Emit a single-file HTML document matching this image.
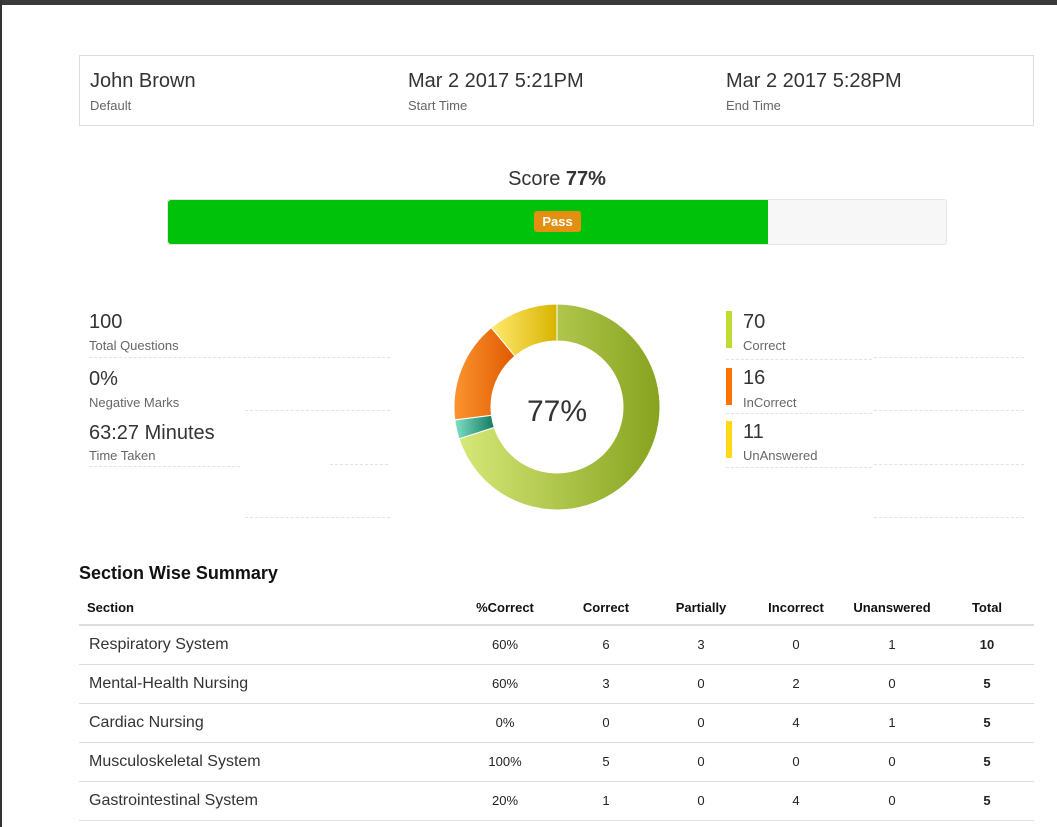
<!DOCTYPE html>
<html><head><meta charset="utf-8"><style>
*{box-sizing:border-box;margin:0;padding:0}
body{width:1057px;height:827px;background:#fff;font-family:"Liberation Sans",sans-serif;color:#333;position:relative;overflow:hidden}
.abs{position:absolute}
.dash{position:absolute;border-top:1px dashed #e2e2e2;height:0}
.big{font-size:20px;color:#333}
.sm{font-size:13px;color:#666}
table{position:absolute;left:79px;top:590px;width:955px;border-collapse:collapse;table-layout:fixed}
th{font-size:13px;font-weight:bold;color:#111;height:35px;text-align:center;border-bottom:2px solid #ddd}
td{font-size:13px;text-align:center;height:39px;border-bottom:1px solid #ddd;color:#222}
td.n{text-align:left;padding-left:10px;font-size:16px;color:#333}
th.n{text-align:left;padding-left:8px}
</style></head><body>
<div class="abs" style="left:0;top:0;width:1057px;height:5px;background:#3a3a3a"></div>
<div class="abs" style="left:0;top:0;width:2px;height:827px;background:#333"></div>

<div class="abs" style="left:79px;top:55px;width:955px;height:71px;border:1px solid #ddd">
 <div class="abs" style="left:10px;top:14px;font-size:20px">John Brown</div>
 <div class="abs sm" style="left:10px;top:42px">Default</div>
 <div class="abs" style="left:328px;top:14px;font-size:20px">Mar 2 2017 5:21PM</div>
 <div class="abs sm" style="left:328px;top:42px">Start Time</div>
 <div class="abs" style="left:646px;top:14px;font-size:20px">Mar 2 2017 5:28PM</div>
 <div class="abs sm" style="left:646px;top:42px">End Time</div>
</div>

<div class="abs" style="left:0;width:1114px;top:168px;text-align:center;font-size:20px">Score <b>77%</b></div>
<div class="abs" style="left:167px;top:199px;width:780px;height:46px;background:#f7f7f7;border:1px solid #e5e5e5;border-radius:3px">
 <div class="abs" style="left:0;top:0;width:600px;height:44px;background:#00c20a;border-radius:3px 0 0 3px"></div>
 <div class="abs" style="left:366px;top:11px;width:47px;height:21px;background:#e39012;border-radius:3px;color:#fff;font-size:13px;font-weight:bold;text-align:center;line-height:21px">Pass</div>
</div>

<div class="abs big" style="left:89px;top:311px">100</div>
<div class="abs sm" style="left:89px;top:338px">Total Questions</div>
<div class="abs big" style="left:89px;top:368px">0%</div>
<div class="abs sm" style="left:89px;top:395px">Negative Marks</div>
<div class="abs big" style="left:89px;top:422px">63:27 Minutes</div>
<div class="abs sm" style="left:89px;top:448px">Time Taken</div>
<div class="dash" style="left:89px;top:357px;width:301px"></div>
<div class="dash" style="left:245px;top:410px;width:145px"></div>
<div class="dash" style="left:89px;top:466px;width:151px"></div>
<div class="dash" style="left:330px;top:464px;width:58px"></div>
<div class="dash" style="left:245px;top:517px;width:145px"></div>

<svg class="abs" style="left:0;top:0" width="1057" height="827">
<defs>
<linearGradient id="gG" x1="0" x2="1"><stop offset="0" stop-color="#d6e878"/><stop offset="1" stop-color="#86a21e"/></linearGradient>
<linearGradient id="gT" x1="0" x2="1"><stop offset="0" stop-color="#7fe0c6"/><stop offset="1" stop-color="#137a5e"/></linearGradient>
<linearGradient id="gO" x1="0" x2="1"><stop offset="0" stop-color="#fb9430"/><stop offset="1" stop-color="#e05a00"/></linearGradient>
<linearGradient id="gY" x1="0" x2="1"><stop offset="0" stop-color="#ffea70"/><stop offset="1" stop-color="#d8b400"/></linearGradient>
</defs>
<g id="donut"></g>
<text x="557" y="421" text-anchor="middle" font-size="30" fill="#333" font-family="Liberation Sans,sans-serif">77%</text>
</svg>

<div class="abs" style="left:726px;top:311px;width:6px;height:37px;background:#c2db34"></div>
<div class="abs big" style="left:743px;top:311px">70</div>
<div class="abs sm" style="left:743px;top:338px">Correct</div>
<div class="abs" style="left:726px;top:368px;width:6px;height:37px;background:#ff7300"></div>
<div class="abs big" style="left:743px;top:367px">16</div>
<div class="abs sm" style="left:743px;top:395px">InCorrect</div>
<div class="abs" style="left:726px;top:421px;width:6px;height:37px;background:#ffd916"></div>
<div class="abs big" style="left:743px;top:421px">11</div>
<div class="abs sm" style="left:743px;top:448px">UnAnswered</div>
<div class="dash" style="left:726px;top:359px;width:146px"></div>
<div class="dash" style="left:874px;top:357px;width:150px"></div>
<div class="dash" style="left:726px;top:413px;width:146px"></div>
<div class="dash" style="left:874px;top:410px;width:150px"></div>
<div class="dash" style="left:726px;top:467px;width:146px"></div>
<div class="dash" style="left:874px;top:464px;width:150px"></div>
<div class="dash" style="left:874px;top:517px;width:150px"></div>

<div class="abs" style="left:79px;top:563px;font-size:18px;font-weight:bold;color:#111">Section Wise Summary</div>
<table>
<colgroup><col style="width:373px"><col style="width:106px"><col style="width:96px"><col style="width:94px"><col style="width:96px"><col style="width:96px"><col style="width:94px"></colgroup>
<tr><th class="n">Section</th><th>%Correct</th><th>Correct</th><th>Partially</th><th>Incorrect</th><th>Unanswered</th><th>Total</th></tr>
<tr><td class="n">Respiratory System</td><td>60%</td><td>6</td><td>3</td><td>0</td><td>1</td><td><b>10</b></td></tr>
<tr><td class="n">Mental-Health Nursing</td><td>60%</td><td>3</td><td>0</td><td>2</td><td>0</td><td><b>5</b></td></tr>
<tr><td class="n">Cardiac Nursing</td><td>0%</td><td>0</td><td>0</td><td>4</td><td>1</td><td><b>5</b></td></tr>
<tr><td class="n">Musculoskeletal System</td><td>100%</td><td>5</td><td>0</td><td>0</td><td>0</td><td><b>5</b></td></tr>
<tr><td class="n">Gastrointestinal System</td><td>20%</td><td>1</td><td>0</td><td>4</td><td>0</td><td><b>5</b></td></tr>
</table>

<script>
const sliceNames = ['correct','partially','incorrect','unanswered'];
const sliceValues = [70, 3, 16, 11];
const sliceFills = ['url(#gG)','url(#gT)','url(#gO)','url(#gY)'];
const cx=557, cy=407, R=103, r=66;
const g=document.getElementById('donut');
const total=sliceValues.reduce((a,b)=>a+b,0);
let a0=0;
function pt(rad,a){return [cx+rad*Math.sin(a), cy-rad*Math.cos(a)];}
sliceValues.forEach((v,i)=>{
  const a1=a0+v/total*2*Math.PI;
  const large=(a1-a0)>Math.PI?1:0;
  const p1=pt(R,a0),p2=pt(R,a1),p3=pt(r,a1),p4=pt(r,a0);
  const p=document.createElementNS('http://www.w3.org/2000/svg','path');
  p.setAttribute('d',`M${p1[0]},${p1[1]}A${R},${R} 0 ${large} 1 ${p2[0]},${p2[1]}L${p3[0]},${p3[1]}A${r},${r} 0 ${large} 0 ${p4[0]},${p4[1]}Z`);
  p.setAttribute('fill',sliceFills[i]);
  p.setAttribute('stroke','#fff');
  p.setAttribute('stroke-width','1');
  
  
  g.appendChild(p);
  a0=a1;
});
</script>
</body></html>
